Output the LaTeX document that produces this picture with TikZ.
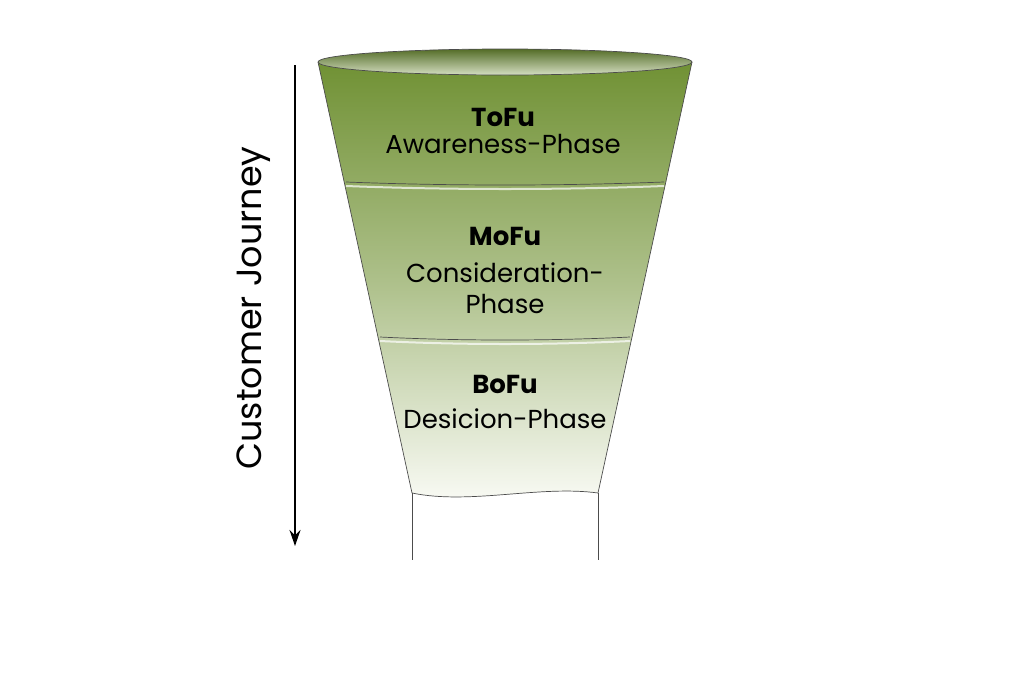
\documentclass[tikz,border=0pt]{standalone}
\usepackage{fontspec}
\setmainfont{Poppins}
\usetikzlibrary{arrows.meta}
\definecolor{dg}{RGB}{112,145,52}
\definecolor{lg}{RGB}{250,251,246}
\tikzset{lbl/.style={font=\fontsize{26}{31}\selectfont, align=center, text=black},
edge/.style={draw=black!70, line width=0.7pt}}
\begin{document}
\begin{tikzpicture}[x=1pt,y=-1pt]
\useasboundingbox (0,0) rectangle (1024,683);
% funnel body
\shade[top color=dg, bottom color=lg, middle color=dg!55!lg] (318,62) -- (412,493) .. controls (470,505) and (540,485) .. (598,493) -- (692,62) -- cycle;
\coordinate (tl) at (318,62); \coordinate (tr) at (692,62);
\coordinate (bl) at (412,493); \coordinate (br) at (598,493);
\draw[edge] (tl) -- (bl); \draw[edge] (tr) -- (br);
\draw[edge] (bl) .. controls (470,505) and (540,485) .. (br);
\draw[edge] (bl) -- (412,560); \draw[edge] (br) -- (598,560);
% top ellipse
\shade[top color=dg!75!black, bottom color=dg!30!white, draw=black!70, line width=0.7pt] (505,62) ellipse (187 and 13);
% dividers
\draw[white, line width=2pt, opacity=0.7] (346,186) .. controls (450,190) and (560,190) .. (664,186);
\draw[edge] (346,182) .. controls (450,186) and (560,186) .. (664,182);
\draw[white, line width=2pt, opacity=0.7] (380,341) .. controls (460,345) and (550,345) .. (630,341);
\draw[edge] (380,337) .. controls (460,341) and (550,341) .. (630,337);
% labels
\node[lbl] (t) at (503,131) {\textbf{ToFu}\\[-4pt]Awareness-Phase};
\node[lbl] (m) at (505,270) {\textbf{MoFu}\\[6pt]Consideration-\\Phase};
\node[lbl] (b) at (505,402) {\textbf{BoFu}\\[4pt]Desicion-Phase};
% arrow
\coordinate (a1) at (295,65); \coordinate (a2) at (295,546);
\draw[-{Stealth[length=16pt,width=11pt]}, line width=1.5pt] (a1) -- (a2);
\node[font=\fontsize{35}{40}\selectfont, rotate=90] (cj) at (254,308) {Customer Journey};
\end{tikzpicture}
\end{document}
